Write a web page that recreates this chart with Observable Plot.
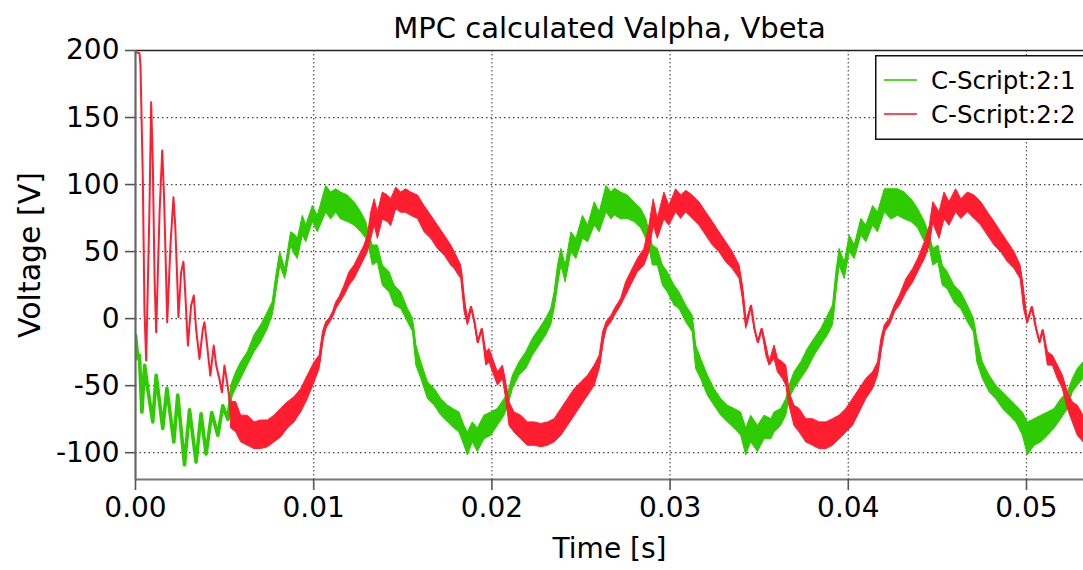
<!DOCTYPE html>
<html>
<head>
<meta charset="utf-8">
<script src="https://cdn.jsdelivr.net/npm/d3@7"></script>
<script src="https://cdn.jsdelivr.net/npm/@observablehq/plot@0.6"></script>
<style>
  html, body { margin: 0; padding: 0; background: #fff; overflow: hidden; }
  #wrap { position: relative; width: 1083px; height: 570px; overflow: hidden; font-family: "DejaVu Sans", Verdana, sans-serif; }
  #legend { position: absolute; left: 875px; top: 55px; }
</style>
</head>
<body>
<div id="wrap"></div>
<script>
// ---- data ----
const title = "MPC calculated Valpha, Vbeta";
const xLabel = "Time [s]";
const yLabel = "Voltage [V]";
const seriesNames = ["C-Script:2:1", "C-Script:2:2"];
const seriesColors = ["#2ecb00", "#ff1d30"];
const xTicks = [0, 0.01, 0.02, 0.03, 0.04, 0.05];
const yTicks = [-100, -50, 0, 50, 100, 150, 200];

// start-up transient (thin traces)
const greenStartT = [0, 0.000131, 0.00022, 0.00036, 0.00051, 0.00066, 0.00097, 0.00116, 0.00153, 0.00176, 0.00215, 0.00237, 0.00275, 0.00303, 0.0034, 0.00368, 0.00396, 0.00428, 0.00462, 0.0049, 0.00518, 0.00537];
const greenStartV = [-12.4, -29.9, -27.4, -69.7, -34.8, -49.8, -77, -42.3, -82, -52, -92, -57, -109, -68, -107, -71, -101, -70, -87, -65, -75, -55];

const redStartT = [0, 0.000224, 0.00028, 0.000411, 0.000505, 0.000599, 0.00078, 0.000879, 0.000973, 0.00107, 0.00116, 0.00135, 0.0015, 0.0016, 0.00172, 0.00178, 0.00196, 0.00213, 0.00223, 0.00234, 0.00241, 0.00256, 0.00269, 0.00279, 0.00294, 0.00312, 0.00327, 0.0034, 0.00359, 0.00378, 0.00387, 0.00402, 0.0042, 0.00439, 0.00453, 0.00471, 0.00485, 0.00499, 0.00514, 0.00528];
const redStartV = [198.8, 198, 188.8, 104, 4.7, -31.3, 79.3, 161.4, 114, 29.6, -10.2, 79.3, 125.4, 91.8, 29.6, -2.7, 54.5, 90.5, 69.4, 29.6, 1, 34.6, 42.5, 19.6, -20.1, 9.7, 17.2, -7.7, -30.1, -7.7, -2.7, -20.1, -42.5, -20.1, -35, -45, -55, -35, -47.5, -60];

// steady part: upper and lower edge of the switching-ripple band
const greenT = [0.00537, 0.00565, 0.00593, 0.0063, 0.00668, 0.00705, 0.00743, 0.0077, 0.0079, 0.00812, 0.0084, 0.00873, 0.00892, 0.00911, 0.00939, 0.00958, 0.00995, 0.01023, 0.0107, 0.01098, 0.01126, 0.01154, 0.01192, 0.01229, 0.01267, 0.01295, 0.01313, 0.01332, 0.0136, 0.01388, 0.01426, 0.01454, 0.01491, 0.01529, 0.01557, 0.01576, 0.01604, 0.01641, 0.01679, 0.01716, 0.01754, 0.01791, 0.01818, 0.01846, 0.01865, 0.01893, 0.01921, 0.01958, 0.01996, 0.02033, 0.02071, 0.02093, 0.02118, 0.02155, 0.02193, 0.0223, 0.02268, 0.02305, 0.02333, 0.02352, 0.02371, 0.0239, 0.02414, 0.02446, 0.02474, 0.02511, 0.0254, 0.02577, 0.02605, 0.02643, 0.02671, 0.0269, 0.02725, 0.02763, 0.028, 0.02838, 0.02866, 0.02885, 0.02903, 0.02931, 0.0296, 0.02987, 0.03025, 0.03053, 0.0309, 0.03127, 0.03146, 0.03174, 0.03212, 0.03249, 0.03287, 0.03324, 0.03362, 0.03399, 0.03427, 0.03455, 0.03493, 0.0353, 0.03568, 0.03586, 0.03623, 0.03652, 0.0367, 0.03698, 0.03736, 0.03773, 0.03811, 0.03848, 0.03886, 0.03914, 0.03933, 0.03951, 0.0398, 0.04008, 0.04036, 0.04073, 0.04101, 0.04139, 0.04167, 0.04205, 0.04242, 0.0428, 0.04317, 0.04355, 0.04392, 0.0443, 0.04458, 0.04477, 0.04506, 0.0453, 0.04558, 0.04596, 0.04633, 0.04671, 0.04705, 0.04724, 0.04755, 0.04793, 0.0483, 0.04868, 0.04905, 0.04943, 0.0498, 0.05008, 0.05046, 0.05083, 0.05121, 0.05158, 0.05195, 0.05233, 0.0526, 0.05288, 0.0532];
const greenHi = [-50, -40, -32.6, -25, -12.4, -5, 5, 12.4, 32, 49.6, 37, 64.4, 63, 59.5, 76.7, 69.4, 84, 76.7, 99, 94, 96.5, 94, 91.8, 86.8, 79.3, 72, 62, 54.5, 54.5, 39.6, 34.6, 24.6, 19.6, 7.2, 0, -20, -32.6, -47.5, -52.5, -60, -65, -68, -70, -80, -85, -77.4, -82, -72.4, -70, -67.4, -60, -55, -42.5, -32.6, -25, -15, -7.7, 0, 7.2, 19.6, 39.6, 52, 39.6, 64.4, 59.5, 76.7, 69.4, 86.8, 79.3, 99, 94, 97, 94, 91.8, 86.8, 81.8, 74.4, 64.4, 54.5, 52, 39.6, 34.6, 24.6, 19.6, 9.7, 2.2, -20, -30, -42.5, -52.5, -60, -65, -67.4, -70, -82, -72.4, -80, -72.4, -75, -70, -67.4, -60, -50, -40, -32.6, -22.6, -15, -7.7, 2.2, 9.7, 34.6, 52, 42, 62, 54.5, 74.4, 69.4, 84, 79.3, 96.5, 96.5, 96.5, 94, 89, 81.8, 72, 62, 52, 54.5, 39.6, 34.6, 24.6, 19.6, 9.7, 0, -15, -32.6, -42.5, -50, -55, -60, -65, -70, -77.4, -75, -72.4, -70, -67.4, -60, -55, -45, -37.6, -32.6];
const greenLo = [-60, -52.5, -45, -35, -25, -17.7, -7.5, 2.4, 19.6, 39.6, 29.6, 54.5, 48, 44.5, 62, 57, 72, 64.4, 79, 74, 79, 74, 72, 69.4, 64.4, 59.5, 52, 39.6, 42, 24.6, 19.6, 9.7, 7.2, -2.7, -10, -35, -45, -60, -65, -72.4, -77.4, -82, -85, -94.8, -102, -92.3, -99.5, -90, -87.3, -80, -72.4, -65, -52.5, -42.5, -37.6, -27.6, -20, -12.4, -5, 7.2, 24.6, 39.6, 27, 49.6, 44.5, 59.5, 57, 69.4, 64.4, 79.3, 74, 77, 74, 74.4, 72, 67.4, 59.5, 52, 39.6, 39.6, 24.6, 19.6, 9.7, 7.2, -2.7, -10.2, -37.6, -45, -57.5, -65, -72.4, -77.4, -82, -87.3, -102, -92.3, -99.5, -90, -90, -85, -80, -72.4, -60, -52.5, -45, -37.6, -27.6, -20, -12.4, -5, 19.6, 39.6, 29.6, 49.6, 44.5, 62, 57, 69.4, 64.4, 79.3, 74, 76.7, 74, 72, 67.4, 57, 52, 39.6, 42, 24.6, 22, 12, 7.2, -2.7, -10.2, -32.6, -45, -55, -60, -67.4, -72.4, -77.4, -87.3, -102, -94.8, -92.3, -87.3, -82, -75, -67.4, -55, -50, -45];

const redT = [0.00528, 0.00537, 0.00565, 0.00593, 0.0063, 0.00668, 0.00705, 0.00743, 0.0078, 0.00817, 0.00855, 0.00892, 0.0093, 0.00967, 0.01005, 0.01033, 0.01052, 0.0107, 0.01089, 0.01108, 0.01126, 0.01145, 0.01173, 0.01201, 0.01229, 0.01257, 0.01285, 0.01304, 0.01323, 0.01342, 0.0136, 0.01388, 0.01416, 0.01435, 0.01463, 0.01491, 0.01519, 0.01547, 0.01585, 0.01622, 0.0166, 0.01697, 0.01735, 0.01772, 0.01791, 0.01828, 0.01847, 0.01865, 0.01884, 0.01903, 0.01921, 0.01944, 0.01968, 0.01987, 0.02006, 0.02034, 0.02062, 0.0208, 0.02099, 0.02127, 0.02165, 0.02202, 0.0224, 0.02277, 0.02315, 0.02352, 0.0239, 0.02427, 0.02465, 0.02502, 0.0254, 0.02577, 0.02605, 0.02624, 0.02643, 0.02671, 0.0269, 0.02725, 0.02753, 0.02781, 0.02819, 0.02856, 0.02884, 0.02908, 0.02931, 0.02968, 0.02996, 0.03034, 0.03062, 0.0309, 0.03127, 0.03165, 0.03202, 0.0324, 0.03277, 0.03315, 0.03352, 0.0339, 0.03408, 0.03427, 0.03455, 0.03474, 0.03493, 0.03515, 0.0354, 0.03558, 0.03586, 0.03605, 0.03633, 0.03652, 0.0367, 0.03698, 0.03727, 0.03764, 0.03802, 0.03839, 0.03877, 0.03914, 0.03951, 0.03989, 0.04026, 0.04064, 0.04101, 0.04139, 0.04167, 0.04186, 0.04205, 0.04233, 0.04261, 0.04289, 0.04327, 0.04364, 0.04392, 0.0443, 0.04458, 0.04477, 0.04486, 0.04512, 0.0454, 0.04568, 0.04605, 0.04634, 0.04671, 0.04708, 0.04746, 0.04783, 0.04821, 0.04858, 0.04896, 0.04933, 0.04967, 0.04986, 0.05004, 0.05031, 0.05055, 0.05074, 0.05092, 0.0512, 0.05148, 0.05176, 0.05204, 0.05232, 0.0526, 0.05288, 0.0532];
const redHi = [-60, -62, -62.4, -72.4, -72.4, -77.4, -76, -76, -72.4, -67.4, -62.4, -58.7, -52.5, -42.5, -32.6, -27.6, -10.2, -2.7, 0, 5, 12, 16, 24.6, 34.6, 39.6, 47, 54.5, 62, 79.3, 89, 79, 94, 91.8, 89, 97.8, 94, 96.5, 94, 91.8, 84, 76.7, 69.4, 62, 54.5, 49.6, 39.6, 14.7, 0, 8.7, -2.7, -17.7, -7.7, -25, -22.6, -30, -40, -35, -47.5, -62.4, -70, -72.4, -77.4, -77.4, -78.6, -77.4, -75, -67.4, -60, -52.5, -47.5, -42.5, -35, -27.6, -10.2, -2.7, 2.2, 7.2, 14.7, 27, 34.6, 44.5, 52, 69.4, 89, 74.4, 94, 84, 96.5, 91.8, 95.3, 91.8, 86.8, 79.3, 72, 64.4, 57, 49.6, 39.6, 24.6, -2.7, 9.7, -7.7, -17.7, -7.7, -20, -32.6, -20, -30, -32.6, -35, -55, -65, -67.4, -75, -75, -77.4, -77.4, -75, -72.4, -67.4, -60, -52.5, -45, -40, -32.6, -15, -5, 0, 9.7, 17, 29.6, 37, 44.5, 57, 69.4, 86.8, 85, 79.3, 94, 86.8, 96.5, 89, 94, 91.8, 86.8, 79.3, 72, 64.4, 57, 49.6, 39.6, 22, -2.7, 8.7, -7.7, -17.7, -8.7, -25, -27.6, -35, -42.5, -55, -62.4, -65, -72.4];
const redLo = [-60, -82, -84.8, -92.3, -94.8, -97.3, -97.3, -96, -92.3, -88.6, -82, -77.4, -69.9, -60, -47.5, -37.6, -17.7, -7.7, -3.5, 1, 7, 11, 17, 24.6, 29.6, 37, 44.5, 49.6, 59.5, 69.4, 59.5, 74, 72, 69, 81.6, 79, 79, 76.7, 74.4, 64.4, 59.5, 52, 47, 39.6, 37, 29.6, 4.7, -5, 8.7, -2.7, -17.7, -7.7, -35, -32.6, -40, -50, -45, -60, -80, -85, -90, -94.8, -94.8, -96, -94.8, -92.3, -87.3, -80, -72.4, -65, -57.5, -50, -37.6, -20, -7.7, -2.7, 2.2, 9.7, 17, 24.6, 34.6, 39.6, 49.6, 69.4, 59.5, 74, 69.4, 79.3, 74.4, 79.3, 74.4, 69.4, 62, 54.5, 49.6, 42, 37, 29.6, 14.7, -7.7, 9.7, -7.7, -17.7, -7.7, -27.6, -35, -30, -40, -45, -50, -65, -80, -85, -92.3, -94.8, -97.3, -97.3, -94.8, -90, -85, -80, -70, -60, -52.5, -42.5, -25, -10, -5, 4.7, 9.7, 19.6, 27, 34.6, 44.5, 54.5, 72, 68, 59.5, 74, 69.4, 79.3, 74.4, 79.3, 74.4, 69.4, 62, 54.5, 49.6, 42, 37, 29.6, 7.2, -2.7, 8.7, -7.7, -17.7, -8.7, -35, -35, -45, -52.5, -67.4, -77.4, -87.3, -92.3];

// ---- build tables ----
const band = (T, Hi, Lo) => T.map((t, i) => ({ t, hi: Hi[i], lo: Lo[i], mid: (Hi[i] + Lo[i]) / 2 }));
const trace = (T, V) => T.map((t, i) => ({ t, v: V[i] }));
const greenBand = band(greenT, greenHi, greenLo);
const redBand = band(redT, redHi, redLo);
const greenStart = trace(greenStartT, greenStartV);
const redStart = trace(redStartT, redStartV);

const font = "DejaVu Sans, Verdana, sans-serif";
const [gCol, rCol] = seriesColors;

const chart = Plot.plot({
  width: 1083,
  height: 570,
  marginLeft: 135,
  marginRight: 0,
  marginTop: 50,
  marginBottom: 91,
  style: { fontFamily: font, background: "#fff", color: "#000", overflow: "visible" },
  x: { domain: [0, 0.0532] },
  y: { domain: [-120, 200] },
  marks: [
    Plot.gridY(yTicks.filter(d => d < 200), { stroke: "#222", strokeOpacity: 0.85, strokeWidth: 1.3, strokeDasharray: "1.5,3" }),
    Plot.gridX(xTicks.filter(d => d > 0), { stroke: "#333", strokeOpacity: 0.8, strokeWidth: 1.3, strokeDasharray: "1.5,2.5" }),
    Plot.areaY(greenBand, { x: "t", y1: "lo", y2: "hi", fill: gCol, stroke: gCol, strokeWidth: 1, clip: true }),
    Plot.line(greenBand, { x: "t", y: "mid", stroke: gCol, strokeWidth: 2, clip: true }),
    Plot.line(greenStart, { x: "t", y: "v", stroke: gCol, strokeWidth: 3.6, clip: true }),
    Plot.areaY(redBand, { x: "t", y1: "lo", y2: "hi", fill: rCol, stroke: rCol, strokeWidth: 1, clip: true }),
    Plot.line(redBand, { x: "t", y: "mid", stroke: rCol, strokeWidth: 2, clip: true }),
    Plot.line(redStart, { x: "t", y: "v", stroke: rCol, strokeWidth: 2, clip: true }),
    Plot.ruleY([200], { stroke: "#222", strokeWidth: 1.5 }),
    Plot.ruleY([-120], { stroke: "#777", strokeWidth: 2.2 }),
    Plot.ruleX([0], { stroke: "#666", strokeWidth: 2.2 }),
    Plot.axisX(xTicks, { tickSize: 11, tickPadding: 7, fontSize: 28, stroke: "#555", strokeWidth: 1.6, fill: "#000", tickFormat: d3.format(".2f"), label: null }),
    Plot.axisY(yTicks, { tickSize: 10, tickPadding: 6, fontSize: 28, stroke: "#555", strokeWidth: 1.6, fill: "#000", tickFormat: d => String(d), label: null }),
    Plot.text([xLabel], { frameAnchor: "bottom", lineAnchor: "middle", dy: 70, fontSize: 28, fill: "#000" }),
    Plot.text([yLabel], { frameAnchor: "left", textAnchor: "middle", dx: -105, dy: -10, rotate: -90, fontSize: 30, fill: "#000" }),
    Plot.text([title], { frameAnchor: "top", lineAnchor: "middle", dy: -22, fontSize: 29, fill: "#000" })
  ]
});

const wrap = document.getElementById("wrap");
wrap.appendChild(chart);

// legend overlay
const leg = d3.select(wrap).append("svg").attr("id", "legend").attr("width", 230).attr("height", 86);
leg.append("rect").attr("x", 0.75).attr("y", 0.75).attr("width", 260).attr("height", 83.5)
  .attr("fill", "#fff").attr("stroke", "#111").attr("stroke-width", 1.5);
seriesNames.forEach((name, i) => {
  const cy = 25 + i * 34;
  leg.append("line").attr("x1", 9).attr("x2", 42).attr("y1", cy).attr("y2", cy)
    .attr("stroke", seriesColors[i]).attr("stroke-width", 2).attr("stroke-opacity", 0.8);
  leg.append("text").attr("x", 56).attr("y", cy).attr("dy", "0.36em")
    .attr("font-family", font).attr("font-size", 24.5).attr("fill", "#000").text(name);
});
</script>
</body>
</html>
